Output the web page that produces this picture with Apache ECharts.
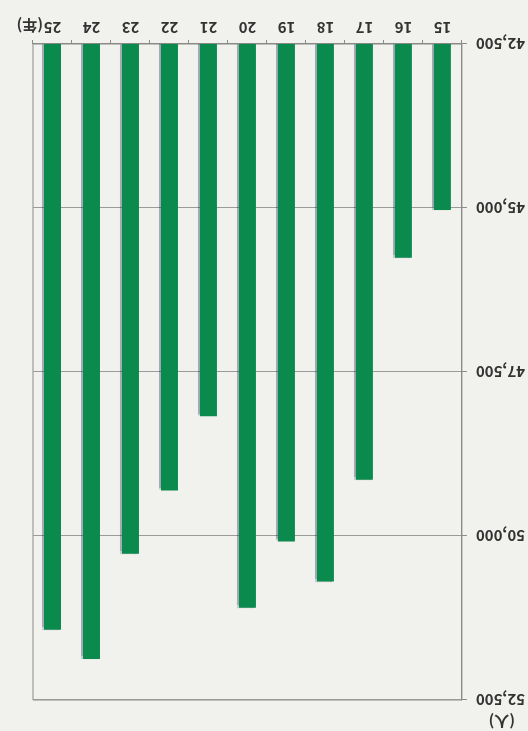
<!DOCTYPE html>
<html><head><meta charset="utf-8">
<script src="https://cdn.jsdelivr.net/npm/echarts@6/dist/echarts.min.js"></script>
<style>html,body{margin:0;padding:0;background:#f1f1ee;overflow:hidden;} #c{width:528px;height:731px;transform:rotate(180deg);}</style>
</head><body><div id="c"></div>
<script>
const years = ['15','16','17','18','19','20','21','22','23','24','25'];
const people = [45030, 45757, 49141, 50694, 50083, 51095, 48175, 49305, 50271, 51874, 51431];
const yMin = 42500, yMax = 52500, yStep = 2500;
const xUnit = '(年)';
const yUnit = '(人)';

const font = '"Noto Sans CJK JP", "Noto Sans", sans-serif';
const chart = echarts.init(document.getElementById('c'), null, {renderer: 'canvas'});
chart.setOption({
  backgroundColor: '#f1f1ee',
  animation: false,
  grid: {left: 61, right: 33, top: 31, bottom: 44, show: true, borderColor: '#8a8a88', borderWidth: 1, backgroundColor: 'transparent'},
  xAxis: {
    type: 'category', data: years,
    axisLine: {lineStyle: {color: '#8a8a88', width: 1}},
    axisTick: {show: true, length: 4, lineStyle: {color: '#8a8a88'}},
    axisLabel: {margin: 9, fontSize: 15, fontWeight: 'bold', color: '#333', fontFamily: font}
  },
  yAxis: {
    type: 'value', min: yMin, max: yMax, interval: yStep,
    axisLine: {show: true, lineStyle: {color: '#8a8a88', width: 1}},
    axisTick: {show: true, length: 5, lineStyle: {color: '#8a8a88'}},
    splitLine: {show: true, lineStyle: {color: '#9a9a98', width: 1}},
    axisLabel: {margin: 14, fontSize: 15, fontWeight: 'bold', color: '#333', fontFamily: font,
      formatter: v => v.toLocaleString('en-US')}
  },
  graphic: [
    {type: 'text', left: 485, top: 698, style: {text: xUnit, fill: '#333', font: 'bold 15px ' + font}},
    {type: 'text', left: 13, top: 2, style: {text: yUnit, fill: '#333', font: 'bold 15px ' + font}}
  ],
  series: [{
    type: 'bar', data: people, barWidth: 17,
    itemStyle: {color: '#0b8a4d', shadowColor: 'rgba(20,40,80,0.35)', shadowOffsetX: 1.5, shadowBlur: 1}
  }]
});
</script></body></html>
